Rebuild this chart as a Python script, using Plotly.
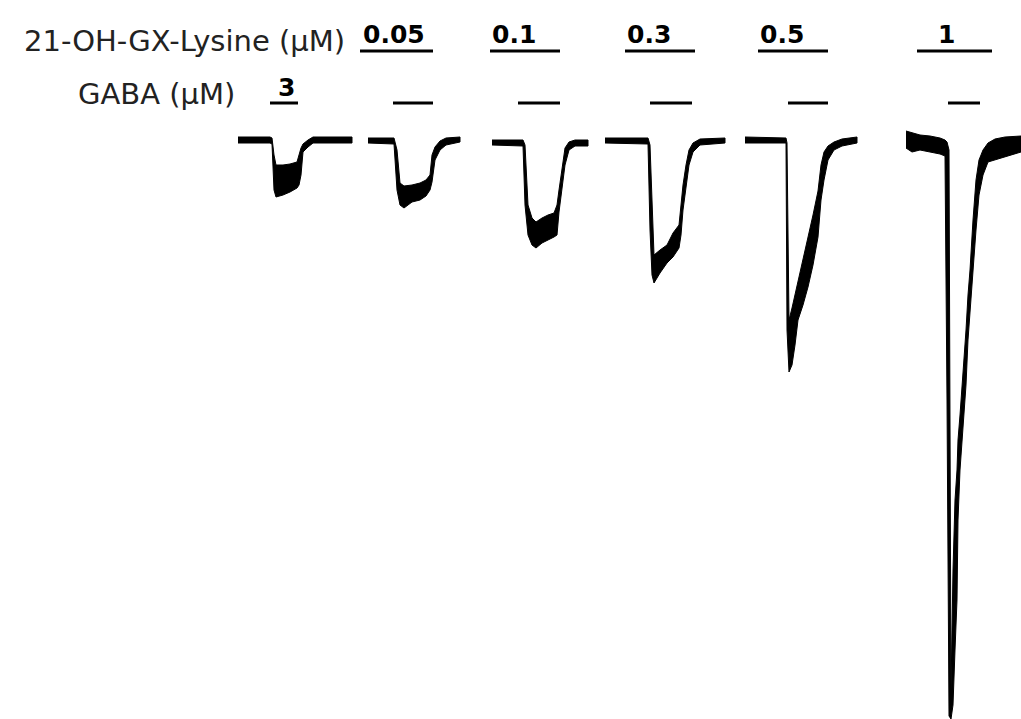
import plotly.graph_objects as go

# ---------------- data ----------------
# concentrations applied
lysine_labels = ["0.05", "0.1", "0.3", "0.5", "1"]
gaba_label = "3"

# application periods (time units, same axis as recordings)
lys_start = [360, 490, 625, 758, 917]
lys_end = [433, 560, 695, 828, 992]
gaba_start = [270, 393, 518, 650, 788, 948]
gaba_end = [298, 433, 560, 692, 828, 980]

# recordings: time, upper noise envelope, lower noise envelope (current, a.u.)
t1 = [238, 270, 272, 274, 276, 283, 290, 297, 299, 301, 303, 308, 313, 352]
hi1 = [3, 3, 2, -15, -25, -25, -24, -22, -15, -8, -4, 0, 3, 3]
lo1 = [-3, -3, -4, -50, -57, -55, -52, -48, -45, -35, -12, -7, -3, -3]

t2 = [368, 394, 397, 400, 404, 412, 420, 426, 430, 432, 435, 440, 446, 460]
hi2 = [2, 2, -10, -43, -46, -45, -43, -40, -35, -15, -7, -1, 2, 3]
lo2 = [-3, -4, -50, -65, -68, -62, -60, -56, -50, -42, -20, -10, -5, -2]

t3 = [492, 523, 525, 528, 532, 536, 542, 548, 554, 557, 559, 562, 565, 569, 575, 588]
hi3 = [0, 0, -5, -65, -78, -82, -78, -75, -73, -65, -50, -30, -8, -2, 0, 0]
lo3 = [-5, -6, -65, -95, -105, -108, -103, -100, -97, -95, -72, -50, -25, -10, -6, -6]

t4 = [605, 648, 650, 652, 654, 660, 667, 673, 679, 681, 683, 686, 689, 693, 700, 725]
hi4 = [2, 2, -5, -60, -115, -110, -105, -93, -85, -65, -45, -25, -10, -3, 1, 2]
lo4 = [-3, -4, -90, -135, -143, -133, -123, -117, -108, -95, -70, -45, -25, -12, -5, -3]

t5 = [745, 786, 787, 789, 792, 795, 798, 803, 808, 813, 818, 821, 824, 828, 834, 842, 857]
hi5 = [3, 2, -3, -180, -168, -155, -140, -118, -97, -75, -51, -25, -12, -6, -2, 1, 3]
lo5 = [-3, -3, -190, -232, -225, -205, -180, -165, -147, -125, -97, -60, -40, -20, -10, -6, -3]

t6 = [906, 912, 920, 930, 940, 945, 947, 949, 951, 953, 955, 957, 958, 960, 963, 966,
      968, 970, 973, 976, 979, 983, 988, 995, 1005, 1021]
hi6 = [9, 7, 5, 4, 2, 0, -2, -10, -550, -430, -360, -330, -300, -275, -235, -190,
       -155, -130, -80, -40, -20, -10, -3, 1, 3, 4]
lo6 = [-8, -12, -10, -12, -14, -16, -260, -576, -579, -565, -510, -460, -380, -330, -285, -245,
       -200, -170, -135, -90, -55, -35, -22, -20, -17, -12]

recordings = [(t1, hi1, lo1), (t2, hi2, lo2), (t3, hi3, lo3),
              (t4, hi4, lo4), (t5, hi5, lo5), (t6, hi6, lo6)]

# ---------------- figure ----------------
fig = go.Figure()
for t, hi, lo in recordings:
    xs = list(t) + list(t)[::-1]
    ys = list(hi) + list(lo)[::-1]
    fig.add_trace(go.Scatter(x=xs, y=ys, mode="lines", fill="toself",
                             fillcolor="black", line=dict(color="black", width=1),
                             hoverinfo="skip", showlegend=False))

LYS_Y = 89
GABA_Y = 37
for s, e in zip(lys_start, lys_end):
    fig.add_shape(type="line", x0=s, x1=e, y0=LYS_Y, y1=LYS_Y, xref="x", yref="y",
                  line=dict(color="black", width=3))
for s, e in zip(gaba_start, gaba_end):
    fig.add_shape(type="line", x0=s, x1=e, y0=GABA_Y, y1=GABA_Y, xref="x", yref="y",
                  line=dict(color="black", width=3))

num_font = dict(family="DejaVu Sans", size=25, color="black")
lab_font = dict(family="DejaVu Sans", size=29, color="#222222")

lab_x = [361, 490, 625, 758, 936]
for x, txt in zip(lab_x, lysine_labels):
    fig.add_annotation(x=x, y=106, xref="x", yref="y", text="<b>%s</b>" % txt,
                       showarrow=False, xanchor="left", yanchor="middle", font=num_font)
fig.add_annotation(x=276, y=53, xref="x", yref="y", text="<b>%s</b>" % gaba_label,
                   showarrow=False, xanchor="left", yanchor="middle", font=num_font)

fig.add_annotation(x=347, y=99, xref="x", yref="y", text="21-OH-GX-Lysine (µM)",
                   showarrow=False, xanchor="right", yanchor="middle", font=lab_font)
fig.add_annotation(x=237, y=46, xref="x", yref="y", text="GABA (µM)",
                   showarrow=False, xanchor="right", yanchor="middle", font=lab_font)

fig.update_xaxes(range=[0, 1021], visible=False, fixedrange=True)
fig.update_yaxes(range=[-579, 140], visible=False, fixedrange=True)
fig.update_layout(width=1021, height=719, margin=dict(l=0, r=0, t=0, b=0),
                  plot_bgcolor="white", paper_bgcolor="white", showlegend=False)

fig.write_html("out.html")
